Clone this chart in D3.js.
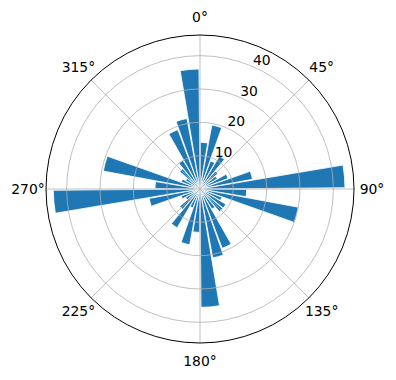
<!DOCTYPE html>
<html>
<head>
<meta charset="utf-8">
<script src="https://cdn.jsdelivr.net/npm/d3@7"></script>
<style>
  body { margin: 0; background: #fff; }
  text { font-family: "DejaVu Sans", sans-serif; font-size: 13.9px; fill: #000; }
</style>
</head>
<body>
<div id="chart"></div>
<script>
'use strict';

// bin centres (degrees, clockwise from north) and bar heights
var directions = [5, 15, 25, 35, 45, 55, 65, 75, 85, 95, 105, 115,
                  125, 135, 145, 155, 165, 175, 185, 195, 205, 215, 225, 235,
                  245, 255, 265, 275, 285, 295, 305, 315, 325, 335, 345, 355];
var counts = [14, 19.5, 9, 11.5, 7, 6, 9, 16, 43.5, 14, 30, 7,
              9, 9, 7, 19, 21, 35.5, 13, 17, 6, 13.5, 8, 5,
              6, 15.5, 44, 13.5, 29.5, 6, 5, 8, 10, 19, 21.5, 36];
var thetaTicks = [0, 45, 90, 135, 180, 225, 270, 315];
var rTicks = [10, 20, 30, 40];

var svgWidth = 396, svgHeight = 380;
var cx = 200, cy = 189, R = 154;
var barWidth = 9; // degrees

var svg = d3.select('#chart')
    .append('svg')
    .attr('width', svgWidth)
    .attr('height', svgHeight);

var g = svg.append('g').attr('transform', 'translate(' + [cx, cy] + ')');

var r = d3.scaleLinear()
    .domain([0, d3.max(counts) * 1.05])
    .range([0, R]);

var rad = function(deg) { return deg * Math.PI / 180; };

var data = directions.map(function(d, i) { return {dir: d, value: counts[i]}; });

var arc = d3.arc()
    .innerRadius(0)
    .outerRadius(function(d) { return r(d.value); })
    .startAngle(function(d) { return rad(d.dir - barWidth / 2); })
    .endAngle(function(d) { return rad(d.dir + barWidth / 2); });

// bars
g.selectAll('.bar')
    .data(data)
    .enter().append('path')
    .attr('class', 'bar')
    .attr('d', arc)
    .style('fill', '#1f77b4')
    .style('stroke', '#fff')
    .style('stroke-width', 0.8);

// grid (drawn over the bars, like matplotlib)
g.selectAll('.ring')
    .data(rTicks)
    .enter().append('circle')
    .attr('r', function(d) { return r(d); })
    .style('fill', 'none')
    .style('stroke', '#b0b0b0')
    .style('stroke-width', 0.8);

g.selectAll('.spoke')
    .data(thetaTicks)
    .enter().append('line')
    .attr('x1', 0).attr('y1', 0)
    .attr('x2', function(d) { return R * Math.sin(rad(d)); })
    .attr('y2', function(d) { return -R * Math.cos(rad(d)); })
    .style('stroke', '#b0b0b0')
    .style('stroke-width', 0.8);

// outer spine
g.append('circle')
    .attr('r', R)
    .style('fill', 'none')
    .style('stroke', '#000')
    .style('stroke-width', 1);

// angle labels
var labelR = R + 18;
g.selectAll('.tlabel')
    .data(thetaTicks)
    .enter().append('text')
    .attr('x', function(d) { return labelR * Math.sin(rad(d)); })
    .attr('y', function(d) { return -labelR * Math.cos(rad(d)); })
    .attr('text-anchor', 'middle')
    .attr('dominant-baseline', 'central')
    .text(function(d) { return d + '°'; });

// radial labels along 22.5°
g.selectAll('.rlabel')
    .data(rTicks)
    .enter().append('text')
    .attr('x', function(d) { return r(d) * Math.sin(rad(22.5)) + 2; })
    .attr('y', function(d) { return -r(d) * Math.cos(rad(22.5)) - 1; })
    .attr('text-anchor', 'start')
    .text(function(d) { return d; });
</script>
</body>
</html>
